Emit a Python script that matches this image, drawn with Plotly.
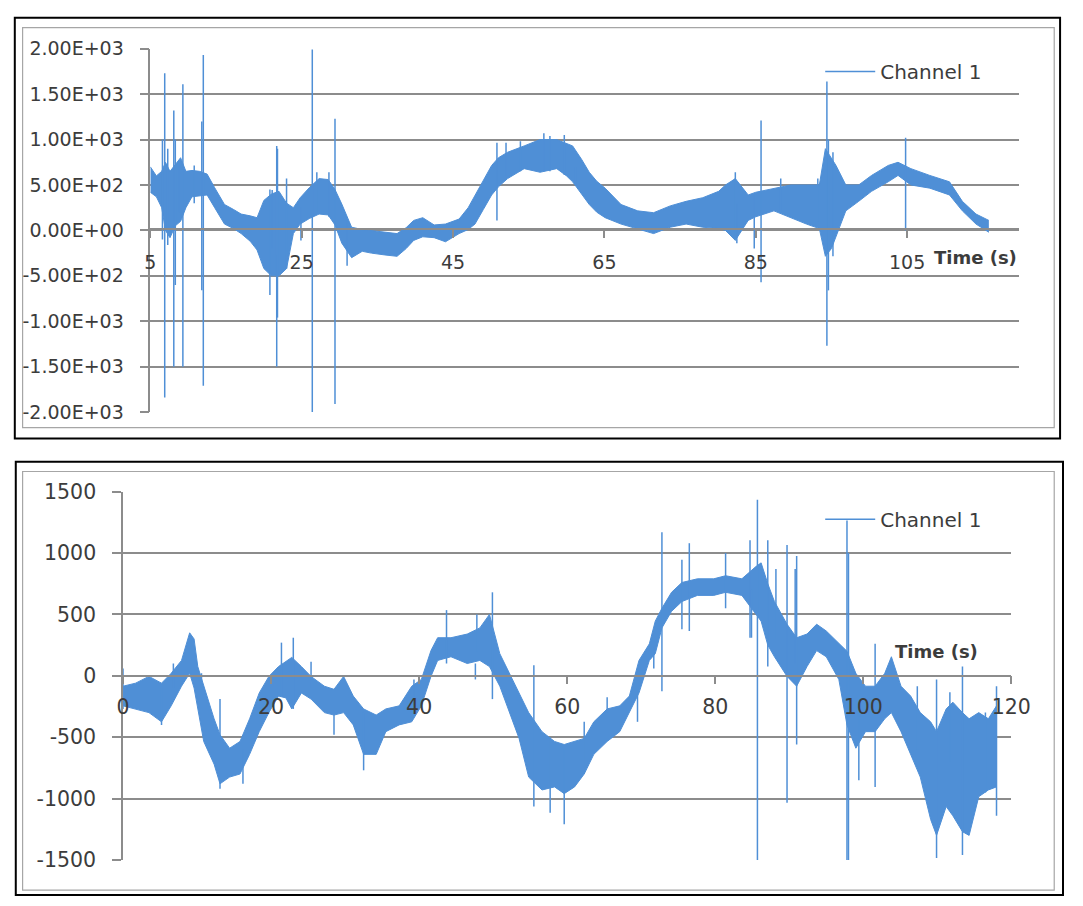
import plotly.graph_objects as go

# ---------------- data: top chart (Channel 1, time 5..116 s) ----------------
top_t = [5.0, 5.8, 6.5, 7.0, 7.6, 8.3, 9.0, 9.7, 10.5, 11.5, 12.5, 13.5, 14.8, 16.0, 17.0,
         18.2, 19.1, 20.0, 21.0, 22.0, 23.0, 23.9, 24.8, 26.0, 27.3, 28.5, 29.4, 30.3, 31.6,
         33.0, 34.2, 36.0, 37.6, 38.8, 39.8, 41.0, 42.5, 44.0, 45.8, 47.0, 47.9, 49.0, 50.1,
         51.0, 52.2, 54.4, 56.5, 58.7, 60.0, 60.8, 62.0, 63.0, 64.0, 65.1, 67.2, 69.4, 71.5,
         73.7, 75.8, 78.0, 80.1, 81.0, 82.3, 84.0, 85.0, 87.4, 89.6, 91.7, 93.4, 94.2, 95.0,
         95.6, 96.9, 98.6, 100.3, 102.5, 103.8, 105.5, 108.0, 110.6, 112.3, 114.1, 115.8]
top_hi = [700, 600, 650, 750, 650, 720, 800, 650, 660, 650, 620, 470, 285, 230, 180,
          160, 140, 330, 400, 430, 300, 250, 360, 470, 570, 560, 450, 290, 35,
          10, 0, -20, -35, 30, 110, 140, 60, 70, 125, 250, 390, 560, 715,
          800, 860, 930, 1000, 1000, 960, 930, 780, 640, 540, 465, 285, 215, 195,
          270, 320, 360, 430, 500, 570, 390, 420, 465, 500, 500, 500, 900, 800,
          715, 500, 500, 605, 715, 750, 680, 605, 535, 320, 180, 110]
top_lo = [420, 370, 250, 0, -80, 50, 100, 250, 370, 380, 390, 250, 70, 20, -35,
          -120, -215, -420, -500, -500, -420, -35, 70, 130, 180, 170, 60, -140, -300,
          -230, -250, -270, -285, -200, -110, -70, -80, -125, -35, 10, 70, 230, 390,
          480, 570, 680, 640, 680, 600, 535, 400, 285, 200, 140, 70, 20, -35,
          35, 70, 35, 20, 0, -110, 110, 150, 215, 140, 70, 20, -285, -200,
          -70, 215, 320, 430, 535, 605, 500, 465, 390, 215, 70, -20]
top_spike_t = [6.6, 6.9, 7.3, 8.1, 8.3, 8.8, 9.3, 10.8, 11.8, 12.0, 20.8, 21.1, 21.7, 21.8,
               23.0, 24.9, 26.4, 27.0, 28.6, 29.4, 31.0, 50.8, 52.0, 53.9, 57.0, 57.8, 59.7,
               61.2, 82.3, 82.5, 84.8, 85.7, 88.3, 93.2, 94.4, 94.6, 95.2, 104.8]
top_spike_hi = [1000, 1730, 900, 1320, 1000, 715, 1610, 715, 1200, 1930, 450, 445, 930, 900,
                570, 250, 1990, 640, 640, 1230, 100, 965, 965, 980, 1070, 1040, 1050,
                700, 640, 300, 390, 1210, 570, 570, 1640, 1000, 860, 1020]
top_spike_lo = [-100, -1840, -160, -1500, -600, 200, -1500, 300, -660, -1710, -710, -200, -1500, -960,
                -420, -110, -2000, 200, 150, -1910, -390, 110, 600, 650, 650, 650, 610,
                500, -50, -140, -200, -570, 200, 100, -1270, -660, -285, 0]
top_xticks = [5, 25, 45, 65, 85, 105]
top_yticks = [2000, 1500, 1000, 500, 0, -500, -1000, -1500, -2000]
top_ytext = ["2.00E+03", "1.50E+03", "1.00E+03", "5.00E+02", "0.00E+00",
             "-5.00E+02", "-1.00E+03", "-1.50E+03", "-2.00E+03"]

# ---------------- data: bottom chart (Channel 1, time 0..118 s) ----------------
bot_t = [0.0, 1.7, 3.5, 5.2, 6.5, 7.9, 9.0, 9.6, 10.1, 10.9, 12.3, 13.1, 14.4, 15.8, 17.1,
         18.4, 19.7, 21.0, 22.0, 22.8, 24.1, 25.4, 27.2, 28.5, 29.8, 31.1, 32.5, 34.2, 35.5,
         37.3, 39.0, 40.3, 41.6, 42.5, 44.3, 46.5, 48.2, 49.5, 50.9, 52.2, 53.5, 54.8, 56.6,
         58.3, 59.6, 61.0, 62.3, 63.6, 65.4, 67.1, 68.4, 69.7, 71.1, 71.9, 72.8, 74.1, 75.5,
         77.6, 79.8, 81.4, 83.6, 85.5, 86.2, 87.1, 88.0, 89.7, 91.0, 92.4, 93.7, 95.0, 96.7,
         97.8, 99.0, 100.3, 101.6, 102.9, 103.8, 105.1, 106.4, 107.7, 109.1, 109.9, 111.2,
         112.1, 113.4, 114.3, 115.6, 116.9, 118.0]
bot_hi = [-85, -60, -5, -60, 20, 125, 350, 300, 75, -85, -350, -480, -590, -535, -350,
          -140, -5, 75, 120, 150, 75, -5, -85, -110, -5, -165, -270, -320, -270,
          -245, -85, -30, 205, 310, 310, 340, 390, 500, 180, 20, -140, -300, -455,
          -535, -560, -535, -510, -375, -270, -245, -165, 125, 260, 445, 550, 680, 760,
          790, 790, 815, 790, 890, 920, 750, 605, 420, 310, 340, 420, 365, 260,
          200, 20, -85, -85, 20, 155, -85, -165, -300, -375, -455, -270,
          -215, -300, -350, -300, -350, -245]
bot_lo = [-245, -270, -300, -375, -245, -85, 20, -100, -270, -535, -720, -880, -825, -800, -640,
          -455, -300, -165, -180, -270, -140, -190, -300, -320, -300, -400, -640, -640, -455,
          -400, -375, -245, -5, 125, 155, 100, 125, 75, -85, -300, -510, -825, -930,
          -905, -960, -905, -800, -640, -535, -455, -300, -140, 125, 180, 390, 525, 605,
          655, 655, 680, 655, 495, 445, 250, 155, -5, -85, 75, 205, 155, -30,
          -400, -590, -455, -455, -350, -300, -455, -640, -825, -1170, -1300, -1065,
          -1140, -1270, -1300, -985, -930, -905]
bot_spike_t = [0.0, 5.2, 6.8, 10.6, 13.1, 16.2, 21.4, 23.0, 25.4, 28.5, 32.5, 39.3, 43.7,
               47.6, 47.8, 49.9, 55.5, 57.7, 59.6, 62.3, 65.4, 69.5, 71.7, 72.8, 75.5, 76.5,
               81.4, 84.7, 84.9, 85.7, 87.1, 88.2, 89.7, 90.8, 91.0, 97.8, 98.0, 99.4, 101.6,
               107.3, 109.9, 111.7, 113.4, 116.5, 118.0]
bot_spike_hi = [60, -100, 100, 20, -190, -600, 270, 310, 115, -110, -300, -30, 535,
                100, 500, 680, 85, -500, -600, -375, -175, -140, 230, 1170, 945, 1080,
                1000, 1105, 700, 1435, 1105, 870, 1065, 870, 975, 1265, 1000, -300, 260,
                -85, -30, -135, 75, -300, -85]
bot_spike_lo = [-270, -400, -100, -200, -920, -880, -165, -270, -100, -480, -770, -200, 100,
                -30, 200, -190, -1065, -1115, -1210, -800, -300, -375, 60, -125, 380, 365,
                550, 310, 310, -1510, 75, 300, -1035, 100, -560, -1510, -1500, -850, -905,
                -600, -1485, -700, -1460, -950, -1140]
bot_xticks = [0, 20, 40, 60, 80, 100, 120]
bot_yticks = [1500, 1000, 500, 0, -500, -1000, -1500]
bot_ytext = ["1500", "1000", "500", "0", "-500", "-1000", "-1500"]

series_name = "Channel 1"
x_title = "Time (s)"

# ---------------- styling ----------------
W, H = 1083, 906
BLUE = "#4f8fd6"
GRID = "#8c8c8c"
TXT = "#3c3c3c"
FONT = "DejaVu Sans"


def fx(p):
    return p / W


def fy(p):
    return 1 - p / H


def spikes(ts, his, los):
    xs, ys = [], []
    for t, h, l in zip(ts, his, los):
        xs += [t, t, None]
        ys += [h, l, None]
    return xs, ys


fig = go.Figure()

# top chart traces
fig.add_trace(go.Scatter(x=top_t, y=top_hi, mode="lines", line=dict(color=BLUE, width=1),
                         showlegend=False, xaxis="x", yaxis="y", hoverinfo="skip"))
fig.add_trace(go.Scatter(x=top_t, y=top_lo, mode="lines", line=dict(color=BLUE, width=1),
                         fill="tonexty", fillcolor=BLUE, showlegend=False,
                         xaxis="x", yaxis="y", hoverinfo="skip"))
sx, sy = spikes(top_spike_t, top_spike_hi, top_spike_lo)
fig.add_trace(go.Scatter(x=sx, y=sy, mode="lines", line=dict(color=BLUE, width=1.5),
                         name=series_name, showlegend=True, legend="legend",
                         xaxis="x", yaxis="y", connectgaps=False))

# bottom chart traces
fig.add_trace(go.Scatter(x=bot_t, y=bot_hi, mode="lines", line=dict(color=BLUE, width=1),
                         showlegend=False, xaxis="x2", yaxis="y2", hoverinfo="skip"))
fig.add_trace(go.Scatter(x=bot_t, y=bot_lo, mode="lines", line=dict(color=BLUE, width=1),
                         fill="tonexty", fillcolor=BLUE, showlegend=False,
                         xaxis="x2", yaxis="y2", hoverinfo="skip"))
sx2, sy2 = spikes(bot_spike_t, bot_spike_hi, bot_spike_lo)
fig.add_trace(go.Scatter(x=sx2, y=sy2, mode="lines", line=dict(color=BLUE, width=1.5),
                         name=series_name, showlegend=True, legend="legend2",
                         xaxis="x2", yaxis="y2", connectgaps=False))

top_font = dict(family=FONT, size=19, color=TXT)
bot_font = dict(family=FONT, size=20.5, color=TXT)

xcommon = dict(showgrid=False, zeroline=False, showline=True, linecolor=GRID, linewidth=1.5,
               ticks="outside", ticklen=8, tickcolor=GRID, tickwidth=1.5,
               anchor="free", tickmode="array")
ycommon = dict(showgrid=True, gridcolor=GRID, gridwidth=1.5, zeroline=False, showline=True,
               linecolor=GRID, linewidth=1.5, ticks="outside", ticklen=9, tickcolor=GRID,
               tickwidth=1.5, tickmode="array")

fig.update_layout(
    width=W, height=H, margin=dict(l=0, r=0, t=0, b=0),
    paper_bgcolor="white", plot_bgcolor="white",
    font=dict(family=FONT, color=TXT),
    xaxis=dict(xcommon, domain=[fx(147), fx(1038)], range=[5, 119.8], tickfont=top_font,
               position=fy(223.3), tickvals=top_xticks, ticklabelstandoff=8),
    yaxis=dict(ycommon, domain=[fy(411), fy(37.7)], range=[-2000, 2000], anchor="x",
               tickfont=top_font, tickvals=top_yticks, ticktext=top_ytext,
               ticklabelstandoff=12),
    xaxis2=dict(xcommon, domain=[fx(119), fx(1030)], range=[0, 120], tickfont=bot_font,
                position=fy(681.8), tickvals=bot_xticks, ticklabelstandoff=5),
    yaxis2=dict(ycommon, domain=[fy(871), fy(492.7)], range=[-1500, 1500], anchor="x2",
                tickfont=bot_font, tickvals=bot_yticks, ticktext=bot_ytext,
                ticklabelstandoff=12),
    legend=dict(x=fx(834), y=fy(41), xanchor="left", yanchor="top", itemwidth=50,
                bgcolor="rgba(0,0,0,0)", font=dict(family=FONT, size=20, color=TXT)),
    legend2=dict(x=fx(834), y=fy(501), xanchor="left", yanchor="top", itemwidth=50,
                 bgcolor="rgba(0,0,0,0)", font=dict(family=FONT, size=20, color=TXT)),
    annotations=[
        dict(text="<b>" + x_title + "</b>", xref="paper", yref="paper",
             x=fx(993), y=fy(252), xanchor="center", yanchor="middle", showarrow=False,
             font=dict(family=FONT, size=18, color=TXT)),
        dict(text="<b>" + x_title + "</b>", xref="paper", yref="paper",
             x=fx(953.5), y=fy(657), xanchor="center", yanchor="middle", showarrow=False,
             font=dict(family=FONT, size=18, color=TXT)),
    ],
    shapes=[
        dict(type="rect", xref="paper", yref="paper", x0=fx(8), x1=fx(1080), y0=fy(438), y1=fy(6),
             line=dict(color="black", width=2), layer="below"),
        dict(type="rect", xref="paper", yref="paper", x0=fx(16), x1=fx(1074), y0=fy(427), y1=fy(16),
             line=dict(color="#a6a6a6", width=1.2), layer="below"),
        dict(type="rect", xref="paper", yref="paper", x0=fx(9), x1=fx(1083), y0=fy(907), y1=fy(462),
             line=dict(color="black", width=2), layer="below"),
        dict(type="rect", xref="paper", yref="paper", x0=fx(16), x1=fx(1074), y0=fy(902), y1=fy(472),
             line=dict(color="#a6a6a6", width=1.2), layer="below"),
    ],
)

fig.write_html("out.html")
